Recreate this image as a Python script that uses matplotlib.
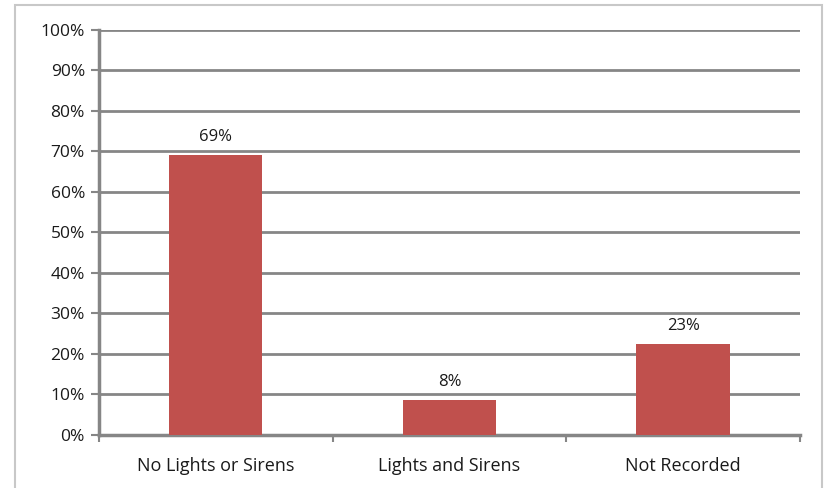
import numpy as np
import matplotlib
matplotlib.use("Agg")
from matplotlib import pyplot as plt
from matplotlib.patches import Rectangle
from matplotlib.ticker import FixedLocator

CATEGORIES = ["No Lights or Sirens", "Lights and Sirens", "Not Recorded"]
VALUES = [69.1, 8.6, 22.5]
VALUE_LABELS = ["69%", "8%", "23%"]
Y_TICKS = list(range(0, 101, 10))

BAR_COLOR = "#C0504D"
GRID_COLOR = "#868686"
TEXT_COLOR = "#1a1a1a"

plt.rcParams["font.family"] = ["Open Sans", "DejaVu Sans"]

fig = plt.figure(figsize=(8.24, 4.88), dpi=100)
ax = fig.add_axes([0.120, 0.1086, 0.851, 0.830])

# outer chart frame
fig.patches.append(Rectangle((15 / 824, -0.02), 807 / 824, 1 - 5 / 488 + 0.02,
                             transform=fig.transFigure, fill=False,
                             edgecolor="#c8c8c8", linewidth=1.5))

x = np.arange(len(CATEGORIES))
ax.bar(x, VALUES, width=0.4, color=BAR_COLOR, zorder=3)

for xi, v, lab in zip(x, VALUES, VALUE_LABELS):
    ax.text(xi, v + 2.5, lab, ha="center", va="bottom", fontsize=12, color=TEXT_COLOR)

ax.set_xlim(-0.5, len(CATEGORIES) - 0.5)
ax.set_ylim(0, 100)
ax.set_yticks(Y_TICKS)
ax.set_yticklabels([f"{t}%" for t in Y_TICKS], fontsize=12.5, color=TEXT_COLOR)
ax.yaxis.grid(True, color=GRID_COLOR, linewidth=2, zorder=0)
ax.set_axisbelow(True)

ax.set_xticks(x)
ax.set_xticklabels(CATEGORIES, fontsize=13, color=TEXT_COLOR)
ax.xaxis.set_minor_locator(FixedLocator(np.arange(-0.5, len(CATEGORIES), 1.0)))
ax.tick_params(axis="x", which="major", length=0, pad=16)
ax.tick_params(axis="x", which="minor", length=5, width=1.5, color=GRID_COLOR)
ax.tick_params(axis="y", length=6, width=1.5, color=GRID_COLOR, pad=4)

for side in ["top", "right"]:
    ax.spines[side].set_visible(False)
for side in ["left", "bottom"]:
    ax.spines[side].set_color(GRID_COLOR)
    ax.spines[side].set_linewidth(2.5)

fig.savefig("out.png", dpi=100)
